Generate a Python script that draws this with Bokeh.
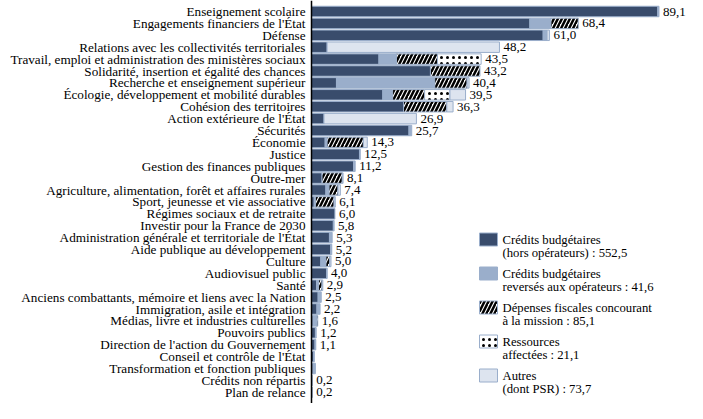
import numpy as np
from bokeh.plotting import figure
from bokeh.models import ColumnDataSource, Range1d, Span
from bokeh.core.properties import value
from bokeh.embed import file_html
from bokeh.resources import INLINE

categories = [
    "Enseignement scolaire",
    "Engagements financiers de l'État",
    "Défense",
    "Relations avec les collectivités territoriales",
    "Travail, emploi et administration des ministères sociaux",
    "Solidarité, insertion et égalité des chances",
    "Recherche et enseignement supérieur",
    "Écologie, développement et mobilité durables",
    "Cohésion des territoires",
    "Action extérieure de l'État",
    "Sécurités",
    "Économie",
    "Justice",
    "Gestion des finances publiques",
    "Outre-mer",
    "Agriculture, alimentation, forêt et affaires rurales",
    "Sport, jeunesse et vie associative",
    "Régimes sociaux et de retraite",
    "Investir pour la France de 2030",
    "Administration générale et territoriale de l'État",
    "Aide publique au développement",
    "Culture",
    "Audiovisuel public",
    "Santé",
    "Anciens combattants, mémoire et liens avec la Nation",
    "Immigration, asile et intégration",
    "Médias, livre et industries culturelles",
    "Pouvoirs publics",
    "Direction de l'action du Gouvernement",
    "Conseil et contrôle de l'État",
    "Transformation et fonction publiques",
    "Crédits non répartis",
    "Plan de relance",
]

credits_hors_op = [88.8, 56.0, 59.4, 4.0, 17.3, 30.5, 6.4, 18.3, 23.6, 3.2, 25.0, 3.5, 12.3,
                   10.8, 2.7, 3.7, 0.7, 6.0, 5.6, 4.6, 4.9, 2.4, 3.9, 1.3, 1.7, 1.4, 0.4,
                   1.0, 0.9, 0.6, 0.4, 0.2, 0.2]
credits_operateurs = [0.3, 5.4, 1.0, 0.0, 4.5, 0.0, 25.2, 2.5, 0.0, 0.0, 0.7, 0.5, 0.2,
                      0.4, 0.0, 0.8, 0.3, 0.0, 0.2, 0.7, 0.3, 1.3, 0.1, 0.5, 0.8, 0.8, 0.9,
                      0.2, 0.2, 0.1, 0.6, 0.0, 0.0]
depenses_fiscales = [0.0, 7.0, 0.0, 0.0, 10.5, 12.7, 8.3, 8.2, 11.1, 0.0, 0.0, 9.3, 0.0,
                     0.0, 5.2, 2.3, 4.8, 0.0, 0.0, 0.0, 0.0, 1.0, 0.0, 0.9, 0.0, 0.0, 0.3,
                     0.0, 0.0, 0.0, 0.0, 0.0, 0.0]
ressources_affectees = [0.0, 0.0, 0.0, 0.0, 11.2, 0.0, 0.0, 6.5, 0.0, 0.0, 0.0, 0.0, 0.0,
                        0.0, 0.0, 0.0, 0.0, 0.0, 0.0, 0.0, 0.0, 0.0, 0.0, 0.0, 0.0, 0.0, 0.0,
                        0.0, 0.0, 0.0, 0.0, 0.0, 0.0]
autres = [0.0, 0.0, 0.6, 44.2, 0.0, 0.0, 0.5, 4.0, 1.6, 23.7, 0.0, 1.0, 0.0,
          0.0, 0.2, 0.6, 0.3, 0.0, 0.0, 0.0, 0.0, 0.3, 0.0, 0.2, 0.0, 0.0, 0.0,
          0.0, 0.0, 0.0, 0.0, 0.0, 0.0]

total_labels = ["89,1", "68,4", "61,0", "48,2", "43,5", "43,2", "40,4", "39,5", "36,3",
                "26,9", "25,7", "14,3", "12,5", "11,2", "8,1", "7,4", "6,1", "6,0", "5,8",
                "5,3", "5,2", "5,0", "4,0", "2,9", "2,5", "2,2", "1,6", "1,2", "1,1",
                "", "", "0,2", "0,2"]

legend_lines = [
    ("Crédits budgétaires", "(hors opérateurs) : 552,5"),
    ("Crédits budgétaires", "reversés aux opérateurs : 41,6"),
    ("Dépenses fiscales concourant", "à la mission : 85,1"),
    ("Ressources", "affectées : 21,1"),
    ("Autres", "(dont PSR) : 73,7"),
]

# ---- styles ----
DARK = "#394c6c"
OPER = "#9aaecb"
LIGHT = "#dde4ef"
EDGE = "#9aaecb"
FONT = value("Liberation Serif")

series = [
    (credits_hors_op, dict(fill_color=DARK)),
    (credits_operateurs, dict(fill_color=OPER)),
    (depenses_fiscales, dict(fill_color="white", hatch_pattern="/", hatch_color="black",
                             hatch_weight=2.5, hatch_scale=8)),
    (ressources_affectees, dict(fill_color="white", hatch_pattern=".", hatch_color="black",
                                hatch_weight=1.0, hatch_scale=6)),
    (autres, dict(fill_color=LIGHT)),
]

# ---- layout ----
W, H = 687, 403
PX_PER_UNIT = 3.9
AXIS_PX = 311.0
ROW_PX = 11.9
TOP_OFFSET_PX = 11.0

def px_x(px):
    return (px - AXIS_PX) / PX_PER_UNIT

def px_y(py):
    return (py - TOP_OFFSET_PX) / ROW_PX

p = figure(width=W, height=H, output_backend="svg", toolbar_location=None,
           x_axis_type=None, y_axis_type=None,
           x_range=Range1d(px_x(0), px_x(W)),
           y_range=Range1d(px_y(H), px_y(0)),
           min_border_left=0, min_border_right=0, min_border_top=0, min_border_bottom=0)
p.outline_line_color = None
p.grid.visible = False
p.background_fill_color = "white"
p.border_fill_color = "white"

n = len(categories)
rows = np.arange(n)
left = np.zeros(n)
for vals, style in series:
    v = np.array(vals, dtype=float)
    mask = v > 0
    src = ColumnDataSource(dict(y=rows[mask], left=left[mask], right=(left + v)[mask]))
    p.hbar(y="y", left="left", right="right", height=0.88, source=src,
           line_color=EDGE, line_width=1, **style)
    left = left + v

# category labels
p.text(x=np.zeros(n), y=rows, text=categories, x_offset=-6,
       text_align="right", text_baseline="middle",
       text_font=FONT, text_font_size="13.2px", text_color="black")

# total labels
p.text(x=left, y=rows, text=total_labels, x_offset=4,
       text_align="left", text_baseline="middle",
       text_font=FONT, text_font_size="13px", text_color="black")

# axis line
p.add_layout(Span(location=0, dimension="height", line_color="black", line_width=1.5))

# legend
LEG_SW_LEFT, LEG_SW_RIGHT = 479, 497
LEG_TOP, LEG_SW_H, LEG_STEP = 232.5, 13, 34
LEG_TEXT_X = 502
for k, ((l1, l2), (_, style)) in enumerate(zip(legend_lines, series)):
    top = LEG_TOP + k * LEG_STEP
    yc = px_y(top + LEG_SW_H / 2)
    p.rect(x=[px_x((LEG_SW_LEFT + LEG_SW_RIGHT) / 2)], y=[yc],
           width=(LEG_SW_RIGHT - LEG_SW_LEFT) / PX_PER_UNIT, height=LEG_SW_H / ROW_PX,
           line_color=EDGE, line_width=1, **style)
    p.text(x=[px_x(LEG_TEXT_X)] * 2, y=[px_y(top + 6.5), px_y(top + 20)], text=[l1, l2],
           text_align="left", text_baseline="middle",
           text_font=FONT, text_font_size="12.7px", text_color="black")

open("out.html", "w").write(file_html(p, INLINE))
